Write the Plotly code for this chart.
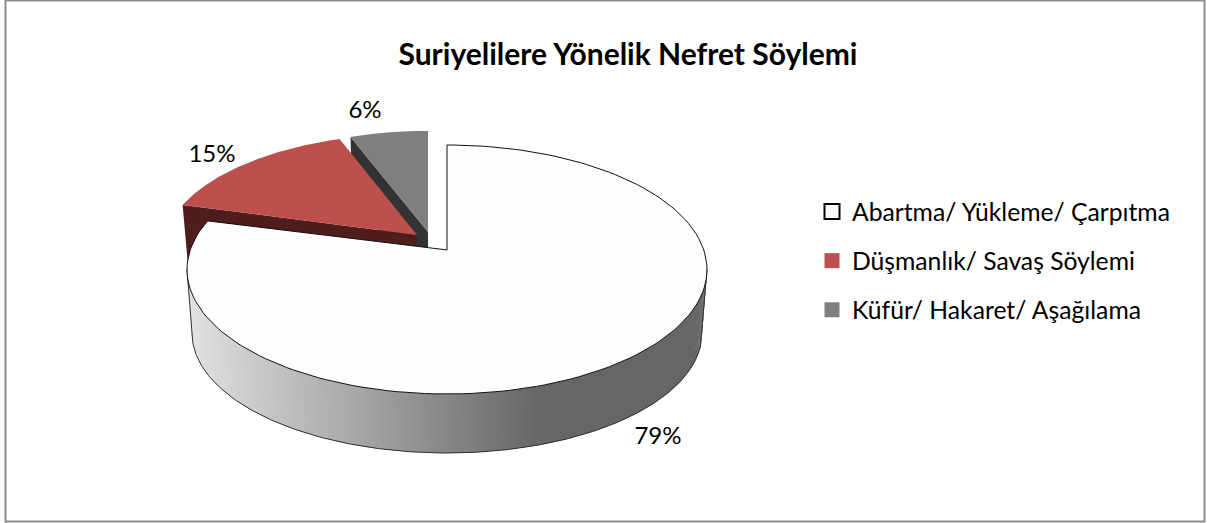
import numpy as np
import plotly.graph_objects as go

title = "Suriyelilere Yönelik Nefret Söylemi"
categories = ["Abartma/ Yükleme/ Çarpıtma", "Düşmanlık/ Savaş Söylemi", "Küfür/ Hakaret/ Aşağılama"]
values = [79, 15, 6]
colors = ["#fdfdfd", "#bd4f4c", "#7f7f7f"]
wall_colors = [None, "#4f1d1c", "#333333"]

FONT = "Lato"
CX, CY, RX, RY = 447.0, 269.5, 260.0, 124.5
BCY, BRX, BRY = 333.0, 255.0, 120.0
T = 0.157
S = np.sqrt(1 - T * T)
# explosion displacement per slice: apex, rim start, rim end
offsets = [((0, 0), (0, 0), (0, 0)),
           ((-30, -15), (-25, -16), (-25, -12.5)),
           ((-19, -18), (-14, -14.5), (-19, -14))]
label_pos = [(658, 438), (212, 156), (365, 112)]


def project(theta):
    """Angle clockwise from 12 o'clock -> page pixels, disc-preserving perspective."""
    x, y = np.sin(theta), np.cos(theta)
    d = 1 + T * y
    return CX + RX * x * S / d, CY - RY * (y + T) / d


APEX = (CX, CY - RY * T)


def wedge(a0, a1, off):
    th = np.linspace(a0, a1, 160)
    px, py = project(th)
    w = np.linspace(0, 1, 160)
    px = px + off[1][0] * (1 - w) + off[2][0] * w
    py = py + off[1][1] * (1 - w) + off[2][1] * w
    ax, ay = APEX[0] + off[0][0], APEX[1] + off[0][1]
    return np.concatenate([[ax], px, [ax]]), np.concatenate([[ay], py, [ay]])


def poly(xs, ys, fill, line=None, width=1):
    return go.Scatter(x=list(xs), y=list(ys), mode="lines", fill="toself", fillcolor=fill,
                      line=dict(color=line or fill, width=width if line else 0),
                      hoverinfo="skip", showlegend=False)


def wall(angle, off):
    """Flat inner wall below a radial edge of an exploded slice."""
    ex, ey = project(np.array(angle))
    ex, ey = ex + off[1][0], ey + off[1][1]
    ax, ay = APEX[0] + off[0][0], APEX[1] + off[0][1]
    D = 60
    k = 0.98
    xs = [ax, ex, CX + (ex - CX) * k, CX + (ax - CX) * k]
    ys = [ay, ey, ey + D, ay + D]
    return xs, ys


fig = go.Figure()
fracs = np.cumsum([0] + values) / sum(values) * 2 * np.pi

# Grey slice
fig.add_trace(poly(*wall(fracs[2], offsets[2]), wall_colors[2]))
fig.add_trace(poly(*wedge(fracs[2], fracs[3], offsets[2]), colors[2]))
# Red slice
fig.add_trace(poly(*wall(fracs[1], offsets[1]), wall_colors[1]))
fig.add_trace(poly(*wedge(fracs[1], fracs[2], offsets[1]), colors[1]))

# White slice: outer side wall with gradient
deg = np.arange(90, 270, 1.0)
for d0 in deg:
    t = np.radians([d0 - 0.3, d0 + 1.3])
    sx, cy_ = np.sin(t), -np.cos(t)
    top_x = CX + RX * sx
    top_y = CY + RY * cy_
    bot_x = CX + BRX * sx
    bot_y = BCY + BRY * cy_
    xm = CX + RX * np.sin(np.radians(d0 + 0.5))
    g = int(round(np.clip(224 - 122 * (xm - 190) / 350, 102, 224)))
    c = f"rgb({g},{g},{g})"
    fig.add_trace(poly(list(top_x) + list(bot_x[::-1]), list(top_y) + list(bot_y[::-1]), c))

# Side outline
th = np.radians(np.linspace(90, 270, 200))
outline_x = np.concatenate([[CX + RX], CX + BRX * np.sin(th), [CX - RX]])
outline_y = np.concatenate([[CY], BCY - BRY * np.cos(th), [CY]])
fig.add_trace(go.Scatter(x=outline_x, y=outline_y, mode="lines",
                         line=dict(color="#303030", width=1), hoverinfo="skip", showlegend=False))

# White slice top
fig.add_trace(poly(*wedge(fracs[0], fracs[1], offsets[0]), colors[0], "#101010", 1))

# Data labels
fig.add_trace(go.Scatter(x=[p[0] for p in label_pos], y=[p[1] for p in label_pos],
                         mode="text", text=[f"{v}%" for v in values],
                         textposition="middle center",
                         textfont=dict(family=FONT, size=24, color="#000000"),
                         hoverinfo="skip", showlegend=False))

# Legend entries
for i, (name, col) in enumerate(zip(categories, colors)):
    fig.add_trace(go.Scatter(x=[None], y=[None], mode="markers", name=name, legendgroup=name,
                             marker=dict(symbol="square", size=15, color=col,
                                         line=dict(color="#000000" if i == 0 else col, width=2 if i == 0 else 0))))

fig.update_layout(
    width=1207, height=523, margin=dict(l=0, r=0, t=0, b=0),
    paper_bgcolor="#ffffff", plot_bgcolor="#ffffff",
    title=dict(text=f"<b>{title}</b>", x=628 / 1207, xanchor="center", y=1 - 54 / 523, yanchor="middle",
               font=dict(family=FONT, size=30, color="#000000")),
    xaxis=dict(range=[0, 1207], visible=False, fixedrange=True),
    yaxis=dict(range=[523, 0], visible=False, fixedrange=True),
    legend=dict(x=812 / 1207, y=1 - 189 / 523, xanchor="left", yanchor="top", traceorder="grouped",
                tracegroupgap=14, bgcolor="rgba(0,0,0,0)", font=dict(family=FONT, size=24.7, color="#000000")),
    shapes=[dict(type="rect", xref="paper", yref="paper", x0=5.5 / 1207, x1=1204.5 / 1207,
                 y0=1 - 521.5 / 523, y1=1 - 0.5 / 523, line=dict(color="#8c8c8c", width=2), layer="above")],
)
fig.write_html("out.html", config=dict(displayModeBar=False),
               post_script="document.body.style.margin='0';")
